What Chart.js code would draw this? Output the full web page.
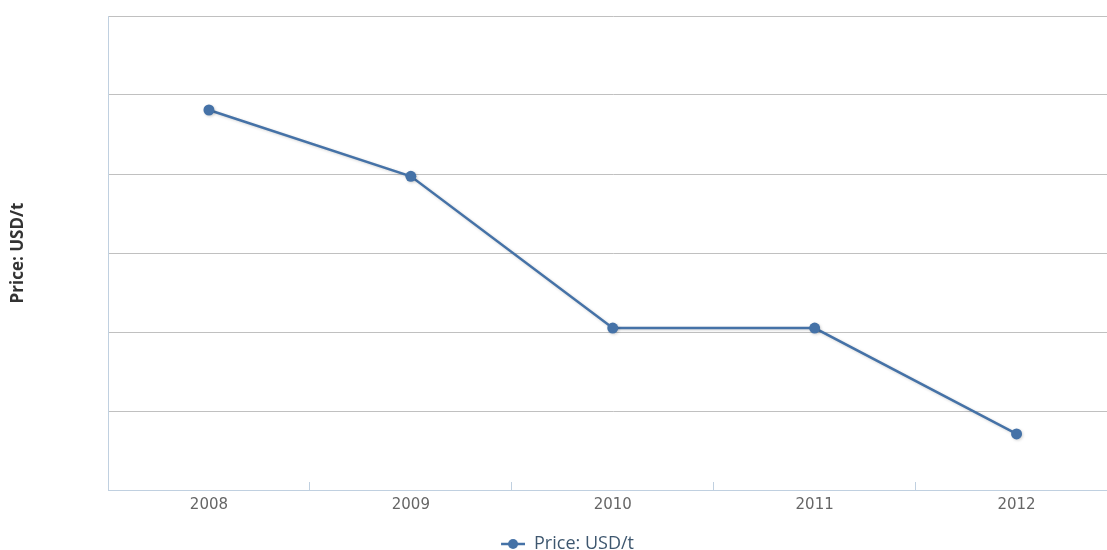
<!DOCTYPE html>
<html>
<head>
<meta charset="utf-8">
<script src="https://cdn.jsdelivr.net/npm/chart.js@4/dist/chart.umd.min.js"></script>
<style>
  html, body { margin: 0; padding: 0; background: #fff; overflow: hidden; width: 1107px; height: 550px; }
  #wrap { width: 1123px; height: 550px; position: relative; }
</style>
</head>
<body>
<div id="wrap"><canvas id="c"></canvas></div>
<script>
const categories = ['2008', '2009', '2010', '2011', '2012'];
const seriesName = 'Price: USD/t';
const priceValues = [481, 397, 205, 205, 71];
const yMin = 0;
const yMax = 600;
const yStep = 100;

const lineColor = '#4572A7';

// legend symbol: line with a circle marker (with a transparent left margin)
const sym = document.createElement('canvas');
sym.width = 36; sym.height = 12;
(function () {
  const g = sym.getContext('2d');
  g.strokeStyle = lineColor; g.lineWidth = 2.5;
  g.beginPath(); g.moveTo(12, 6); g.lineTo(36, 6); g.stroke();
  g.fillStyle = lineColor;
  g.beginPath(); g.arc(24, 6, 5, 0, Math.PI * 2); g.fill();
})();

const shadowPlugin = {
  id: 'lineShadow',
  beforeDatasetsDraw(chart) {
    const ctx = chart.ctx;
    ctx.save();
    ctx.shadowColor = 'rgba(0,0,0,0.18)';
    ctx.shadowOffsetX = 1;
    ctx.shadowOffsetY = 1;
    ctx.shadowBlur = 3;
  },
  afterDatasetsDraw(chart) {
    chart.ctx.restore();
  }
};

new Chart(document.getElementById('c'), {
  type: 'line',
  data: {
    labels: categories,
    datasets: [{
      label: seriesName,
      data: priceValues,
      borderColor: lineColor,
      backgroundColor: lineColor,
      borderWidth: 2.5,
      pointRadius: 5.5,
      pointHoverRadius: 5.5,
      pointBackgroundColor: lineColor,
      pointBorderWidth: 0,
      tension: 0,
      fill: false
    }]
  },
  plugins: [shadowPlugin],
  options: {
    responsive: true,
    maintainAspectRatio: false,
    animation: false,
    layout: { padding: { top: 16, right: 0, left: 0, bottom: -13 } },
    plugins: {
      tooltip: { enabled: false },
      legend: {
        position: 'bottom',
        labels: {
          usePointStyle: true,
          pointStyleWidth: 36,
          padding: 4,
          color: '#3E576F',
          font: { family: '"Open Sans", "DejaVu Sans", sans-serif', size: 18 },
          generateLabels(chart) {
            return chart.data.datasets.map((ds, i) => ({
              text: ds.label,
              pointStyle: sym,
              fillStyle: lineColor,
              strokeStyle: lineColor,
              lineWidth: 0,
              hidden: false,
              datasetIndex: i,
              fontColor: '#3E576F'
            }));
          }
        }
      }
    },
    scales: {
      x: {
        type: 'category',
        offset: true,
        grid: {
          offset: true,
          drawOnChartArea: false,
          drawTicks: true,
          tickLength: -8,
          color: '#C0D0E0',
          lineWidth: 1
        },
        border: { display: true, color: '#C0D0E0', width: 1 },
        ticks: {
          color: '#666666',
          padding: 14,
          font: { family: '"DejaVu Sans", Verdana, sans-serif', size: 15 },
          maxRotation: 0
        },
        afterFit(scale) { scale.height = 41; }
      },
      y: {
        min: yMin,
        max: yMax,
        ticks: { display: false, stepSize: yStep },
        grid: { color: '#C0C0C0', lineWidth: 1, drawTicks: false },
        border: { display: true, color: '#C0D0E0', width: 1 },
        title: {
          display: true,
          text: seriesName,
          color: '#333333',
          font: { family: '"Open Sans", "DejaVu Sans", sans-serif', size: 17, weight: 'bold' },
          padding: { top: 8, bottom: 0 }
        },
        afterFit(scale) { scale.width = 108; }
      }
    }
  }
});
</script>
</body>
</html>
